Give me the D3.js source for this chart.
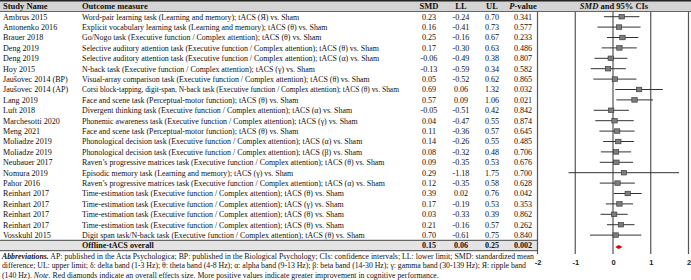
<!DOCTYPE html>
<html>
<head>
<meta charset="utf-8">
<script src="https://cdn.jsdelivr.net/npm/d3@7"></script>
<style>
  body { margin: 0; background: #fff; }
  svg text { font-family: "Liberation Serif", "Times New Roman", serif; fill: #111; }
</style>
</head>
<body>
<div id="chart"></div>
<script>
const studies = ["Ambrus 2015", "Antonenko 2016", "Brauer 2018", "Deng 2019", "Deng 2019", "Hoy 2015",
  "Jaušovec 2014 (BP)", "Jaušovec 2014 (AP)", "Lang 2019", "Luft 2018", "Marchesotti 2020", "Meng 2021",
  "Moliadze 2019", "Moliadze 2019", "Neubauer 2017", "Nomura 2019", "Pahor 2016",
  "Reinhart 2017", "Reinhart 2017", "Reinhart 2017", "Reinhart 2017", "Vosskuhl 2015"];

const outcomes = [
  "Word-pair learning task (Learning and memory); tACS (Я) vs. Sham",
  "Explicit vocabulary learning task (Learning and memory); tACS (θ) vs. Sham",
  "Go/Nogo task (Executive function / Complex attention); tACS (θ) vs. Sham",
  "Selective auditory attention task (Executive function / Complex attention); tACS (θ) vs. Sham",
  "Selective auditory attention task (Executive function / Complex attention); tACS (α) vs. Sham",
  "N-back task (Executive function / Complex attention); tACS (γ) vs. Sham",
  "Visual-array comparison task (Executive function / Complex attention); tACS (θ) vs. Sham",
  "Corsi block-tapping, digit-span, N-back task (Executive function / Complex attention); tACS (θ) vs. Sham",
  "Face and scene task (Perceptual-motor function); tACS (θ) vs. Sham",
  "Divergent thinking task (Executive function / Complex attention); tACS (α) vs. Sham",
  "Phonemic awareness task (Executive function / Complex attention); tACS (γ) vs. Sham",
  "Face and scene task (Perceptual-motor function); tACS (θ) vs. Sham",
  "Phonological decision task (Executive function / Complex attention); tACS (α) vs. Sham",
  "Phonological decision task (Executive function / Complex attention); tACS (β) vs. Sham",
  "Raven’s progressive matrices task (Executive function / Complex attention); tACS (θ) vs. Sham",
  "Episodic memory task (Learning and memory); tACS (γ) vs. Sham",
  "Raven’s progressive matrices task (Executive function / Complex attention); tACS (α) vs. Sham",
  "Time-estimation task (Executive function / Complex attention); tACS (θ) vs. Sham",
  "Time-estimation task (Executive function / Complex attention); tACS (γ) vs. Sham",
  "Time-estimation task (Executive function / Complex attention); tACS (θ) vs. Sham",
  "Time-estimation task (Executive function / Complex attention); tACS (θ) vs. Sham",
  "Digit span task/N-back task (Executive function / Complex attention); tACS (θ) vs. Sham"
];

// SMD as printed in the table (last one is printed 0.70 but plotted near 0.07)
const smdPrinted = ["0.23", "0.16", "0.25", "0.17", "-0.06", "-0.13", "0.05", "0.69", "0.57", "-0.05", "0.04",
  "0.11", "0.14", "0.08", "0.09", "0.29", "0.12", "0.39", "0.17", "0.03", "0.21", "0.70"];
const smd = [0.23, 0.16, 0.25, 0.17, -0.06, -0.13, 0.05, 0.69, 0.57, -0.05, 0.04,
  0.11, 0.14, 0.08, 0.09, 0.29, 0.12, 0.39, 0.17, 0.03, 0.21, 0.07];
const lower = [-0.24, -0.41, -0.16, -0.30, -0.49, -0.59, -0.52, 0.06, 0.09, -0.51, -0.47,
  -0.36, -0.26, -0.32, -0.35, -1.18, -0.35, 0.02, -0.19, -0.33, -0.16, -0.61];
const upper = [0.70, 0.73, 0.67, 0.63, 0.38, 0.34, 0.62, 1.32, 1.06, 0.42, 0.55,
  0.57, 0.55, 0.48, 0.53, 1.75, 0.58, 0.76, 0.53, 0.39, 0.57, 0.75];
const pValues = [0.341, 0.577, 0.233, 0.486, 0.807, 0.582, 0.865, 0.032, 0.021, 0.842, 0.874,
  0.645, 0.485, 0.706, 0.676, 0.700, 0.628, 0.042, 0.353, 0.862, 0.262, 0.840];

const overallLabel = "Offline-tACS overall";
const overall = { smd: 0.15, lower: 0.06, upper: 0.25, p: 0.002 };

const xTicks = [-2, -1, 0, 1, 2];

const width = 691, height = 280;
const svg = d3.select("#chart").append("svg")
  .attr("width", width).attr("height", height);

const rowH = 10.4, headTop = 1, headBot = 11.5;
const y = d3.scaleLinear().domain([0, 1]).range([headBot + rowH / 2, headBot + rowH * 1.5]);
const x = d3.scaleLinear().domain([-2, 2]).range([537.5, 688.5]);

const col = { study: 3, outcome: 82, smd: 429, ll: 461, ul: 492, p: 523 };
const tableRight = 537;
const fs = 8.1, fsOutcome = 7.9;
const outcomeMax = 318; // keep the longest measure clear of the SMD column

// header band
svg.append("rect").attr("x", 0).attr("y", headTop).attr("width", width).attr("height", headBot - headTop)
  .attr("fill", "#d4d4d4");
svg.append("line").attr("x1", 0).attr("x2", width).attr("y1", 0.8).attr("y2", 0.8)
  .attr("stroke", "#222").attr("stroke-width", 1.6);
svg.append("line").attr("x1", 0).attr("x2", width).attr("y1", headBot).attr("y2", headBot)
  .attr("stroke", "#444").attr("stroke-width", 0.8);

const head = svg.append("g").attr("font-weight", "bold").attr("font-size", 8.5);
const hy = (headTop + headBot) / 2 + 3;
head.append("text").attr("x", col.study).attr("y", hy).text("Study Name");
head.append("text").attr("x", col.outcome).attr("y", hy).text("Outcome measure");
head.append("text").attr("x", col.smd).attr("y", hy).attr("text-anchor", "middle").text("SMD");
head.append("text").attr("x", col.ll).attr("y", hy).attr("text-anchor", "middle").text("LL");
head.append("text").attr("x", col.ul).attr("y", hy).attr("text-anchor", "middle").text("UL");
const ph = head.append("text").attr("x", col.p).attr("y", hy).attr("text-anchor", "middle");
ph.append("tspan").attr("font-style", "italic").text("P");
ph.append("tspan").text("-value");
const fh = head.append("text").attr("x", x(0) + 1).attr("y", hy).attr("text-anchor", "middle");
fh.append("tspan").attr("font-style", "italic").text("SMD");
fh.append("tspan").text(" and 95% CIs");

// study rows
const rows = svg.append("g").attr("font-size", fs);
studies.forEach((s, i) => {
  const ty = y(i) + 2.8;
  rows.append("text").attr("x", col.study).attr("y", ty).text(s);
  const om = rows.append("text").attr("x", col.outcome).attr("y", ty)
    .attr("font-size", fsOutcome).text(outcomes[i]);
  const len = om.node().getBBox().width;
  if (len > outcomeMax) om.attr("font-size", fsOutcome * outcomeMax / len);
  rows.append("text").attr("x", col.smd).attr("y", ty).attr("text-anchor", "middle").text(smdPrinted[i]);
  rows.append("text").attr("x", col.ll).attr("y", ty).attr("text-anchor", "middle").text(lower[i].toFixed(2));
  rows.append("text").attr("x", col.ul).attr("y", ty).attr("text-anchor", "middle").text(upper[i].toFixed(2));
  rows.append("text").attr("x", col.p).attr("y", ty).attr("text-anchor", "middle").text(pValues[i].toFixed(3));
});

// overall row
const oi = studies.length;
const oTop = y(oi) - rowH / 2, oBot = y(oi) + rowH / 2;
svg.append("rect").attr("x", 0).attr("y", oTop).attr("width", tableRight).attr("height", rowH)
  .attr("fill", "#e4e4e4");
[oTop, oBot].forEach(v => svg.append("line").attr("x1", 0).attr("x2", tableRight)
  .attr("y1", v).attr("y2", v).attr("stroke", "#333").attr("stroke-width", 0.9));
const og = svg.append("g").attr("font-size", fs).attr("font-weight", "bold");
const oy = y(oi) + 2.8;
og.append("text").attr("x", col.outcome).attr("y", oy).text(overallLabel);
og.append("text").attr("x", col.smd).attr("y", oy).attr("text-anchor", "middle").text(overall.smd.toFixed(2));
og.append("text").attr("x", col.ll).attr("y", oy).attr("text-anchor", "middle").text(overall.lower.toFixed(2));
og.append("text").attr("x", col.ul).attr("y", oy).attr("text-anchor", "middle").text(overall.upper.toFixed(2));
og.append("text").attr("x", col.p).attr("y", oy).attr("text-anchor", "middle").text(overall.p.toFixed(3));

// forest plot gridlines
const plotBottom = 254;
svg.append("g").selectAll("line").data(xTicks).join("line")
  .attr("x1", d => x(d)).attr("x2", d => x(d))
  .attr("y1", headBot).attr("y2", plotBottom)
  .attr("stroke", "#555").attr("stroke-width", 1.2);

// CI lines + squares
const forest = svg.append("g");
forest.selectAll("line").data(smd).join("line")
  .attr("x1", (d, i) => x(lower[i])).attr("x2", (d, i) => x(upper[i]))
  .attr("y1", (d, i) => y(i)).attr("y2", (d, i) => y(i))
  .attr("stroke", "#333").attr("stroke-width", 1);
forest.selectAll("rect").data(smd).join("rect")
  .attr("x", d => x(d) - 2.7).attr("y", (d, i) => y(i) - 2.3)
  .attr("width", 5.4).attr("height", 4.6)
  .attr("fill", "#7c7c7c").attr("stroke", "#333").attr("stroke-width", 0.6);

// overall diamond
const dy = y(oi) + 1.5;
svg.append("path")
  .attr("d", `M${x(overall.lower)},${dy} L${x(overall.smd)},${dy - 2} L${x(overall.upper)},${dy} L${x(overall.smd)},${dy + 2} Z`)
  .attr("fill", "#e00000");

// axis
const axis = svg.append("g").attr("transform", `translate(0,${plotBottom + 3})`)
  .call(d3.axisBottom(x).tickValues(xTicks).tickSize(0).tickFormat(d3.format("d")));
axis.select(".domain").remove();
axis.selectAll("text")
  .style("font-family", "'Liberation Sans', Arial, sans-serif")
  .style("font-size", "7.5px").style("font-weight", "bold").style("fill", "#222")
  .text(d => String(d));

// footnote
const note = svg.append("g").attr("font-size", 7.8);
const l1 = note.append("text").attr("x", 2).attr("y", 258.5)
  .attr("textLength", 532).attr("lengthAdjust", "spacing");
l1.append("tspan").attr("font-weight", "bold").attr("font-style", "italic").text("Abbreviations.");
l1.append("tspan").text(" AP: published in the Acta Psychologica; BP: published in the Biological Psychology; CIs: confidence intervals; LL: lower limit; SMD: standardized mean");
note.append("text").attr("x", 2).attr("y", 268)
  .attr("textLength", 524).attr("lengthAdjust", "spacing")
  .text("difference; UL: upper limit; δ: delta band (1-3 Hz); θ: theta band (4-8 Hz); α: alpha band (9-13 Hz); β: beta band (14-30 Hz); γ: gamma band  (30-139 Hz); Я: ripple band");
const l3 = note.append("text").attr("x", 2).attr("y", 277.5);
l3.append("tspan").text("(140 Hz). ");
l3.append("tspan").attr("font-style", "italic").text("Note.");
l3.append("tspan").text(" Red diamonds indicate an overall effects size. More positive values indicate greater improvement in cognitive performance.");
</script>
</body>
</html>
